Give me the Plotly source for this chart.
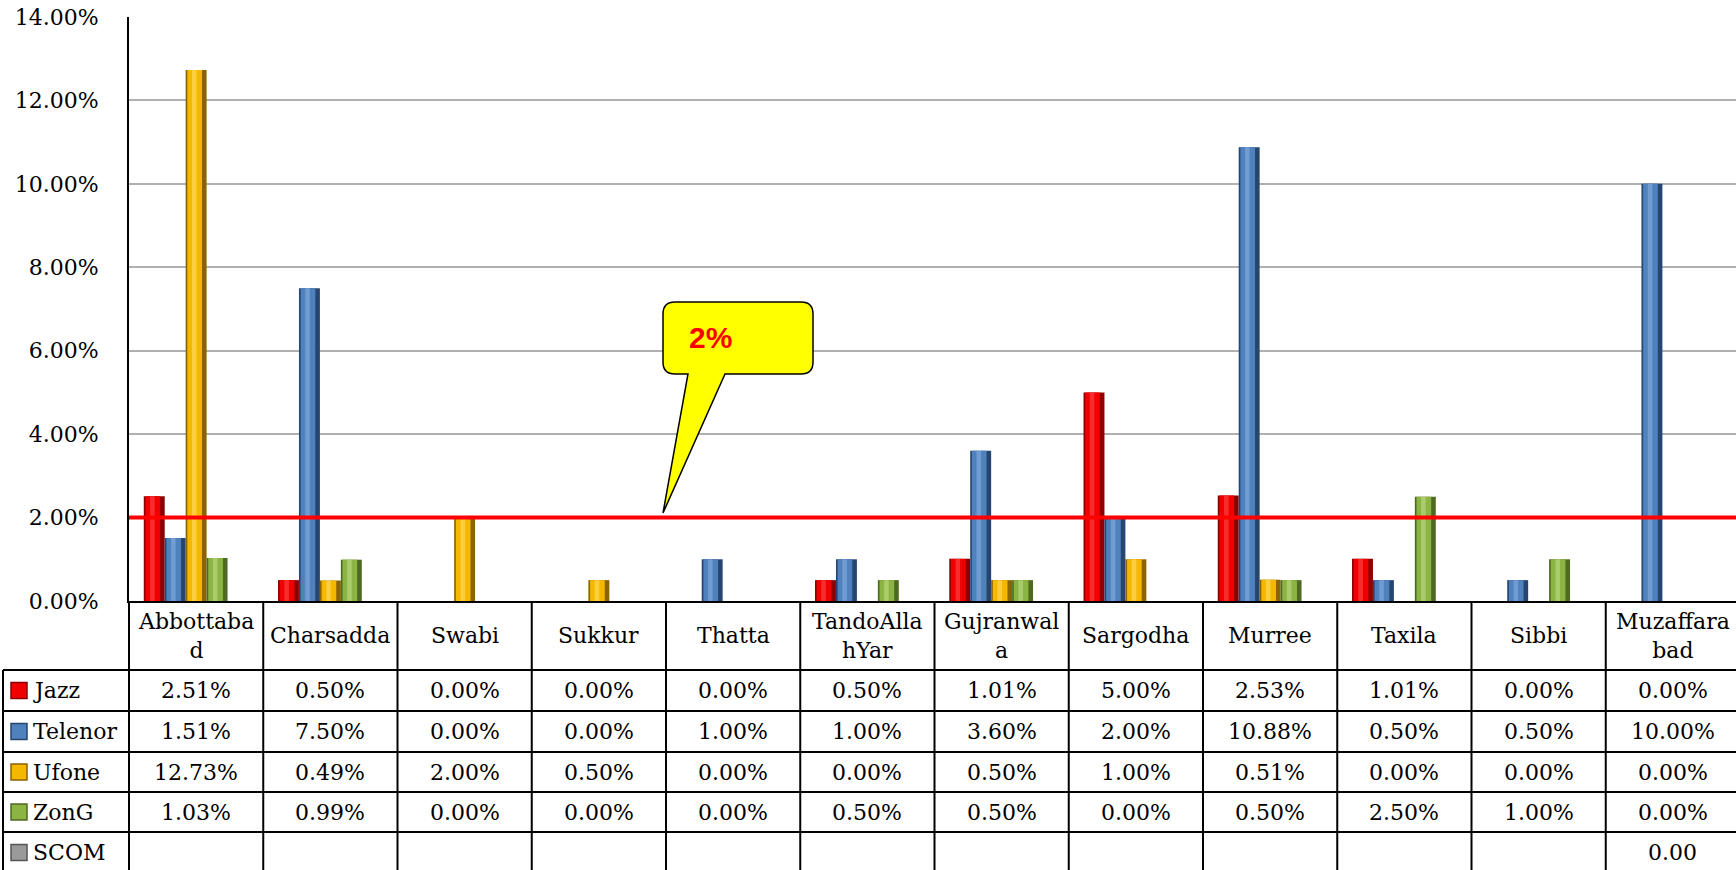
import plotly.graph_objects as go

# ---------------- data ----------------
CATEGORIES = ["Abbottabad", "Charsadda", "Swabi", "Sukkur", "Thatta", "TandoAllahYar",
              "Gujranwala", "Sargodha", "Murree", "Taxila", "Sibbi", "Muzaffarabad"]
HEADER_LABELS = ["Abbottaba<br>d", "Charsadda", "Swabi", "Sukkur", "Thatta", "TandoAlla<br>hYar",
                 "Gujranwal<br>a", "Sargodha", "Murree", "Taxila", "Sibbi", "Muzaffara<br>bad"]
SERIES = ["Jazz", "Telenor", "Ufone", "ZonG", "SCOM"]
JAZZ = [2.51, 0.50, 0.00, 0.00, 0.00, 0.50, 1.01, 5.00, 2.53, 1.01, 0.00, 0.00]
TELENOR = [1.51, 7.50, 0.00, 0.00, 1.00, 1.00, 3.60, 2.00, 10.88, 0.50, 0.50, 10.00]
UFONE = [12.73, 0.49, 2.00, 0.50, 0.00, 0.00, 0.50, 1.00, 0.51, 0.00, 0.00, 0.00]
ZONG = [1.03, 0.99, 0.00, 0.00, 0.00, 0.50, 0.50, 0.00, 0.50, 2.50, 1.00, 0.00]
SCOM = [None, None, None, None, None, None, None, None, None, None, None, 0.00]
THRESHOLD = 2.0          # percent
THRESHOLD_LABEL = "2%"
Y_TICKS = [0, 2, 4, 6, 8, 10, 12, 14]

VALUES = [JAZZ, TELENOR, UFONE, ZONG, SCOM]

# ---------------- style ----------------
MAIN = ["#F00000", "#4F81BD", "#F5B800", "#8CB443", "#9A9A9A"]
DARK = ["#8E0000", "#27466F", "#8A6400", "#4E6A22", "#555555"]
LIGHT = ["#FF5050", "#8DB3E2", "#FFE070", "#C4E08E", "#D0D0D0"]

W, H = 1736, 870
L, R, T, B = 129, 0, 17, 269
PW = W - L - R
PH = H - T - B
COL_PX = 134.25
FONT = "DejaVu Serif"
FS = 22


def px(x):
    return (x - L) / PW


def py(y):
    return (H - B - y) / PH


fig = go.Figure()

n = len(SERIES)
bw = 0.156
start = -bw * n / 2
for k, (name, vals) in enumerate(zip(SERIES, VALUES)):
    vals_pct = [None if (v is None or v == 0) else v / 100 for v in vals]
    o = start + k * bw
    layers = [
        (o, bw, DARK[k], 1.0),
        (o + 0.08 * bw, 0.70 * bw, MAIN[k], 1.0),
        (o + 0.30 * bw, 0.22 * bw, LIGHT[k], 0.55),
    ]
    for off, wd, col, op in layers:
        fig.add_trace(go.Bar(
            x=CATEGORIES, y=vals_pct, offset=off, width=wd, name=name,
            marker=dict(color=col, line=dict(width=0)), opacity=op,
            showlegend=False, hoverinfo="skip"))

x_end = -0.5 + PW / COL_PX

shapes = []
annotations = []

# threshold line
shapes.append(dict(type="line", xref="paper", yref="y", x0=0, x1=1,
                   y0=THRESHOLD / 100, y1=THRESHOLD / 100,
                   line=dict(color="#FF0000", width=4), layer="above"))

# callout
r = 12
cl, cr, ct, cb = 663, 813, 302, 374
tail = [(725, 374), (663, 513), (688, 374)]


def P(x, y):
    return f"{px(x):.5f},{py(y):.5f}"


path = (f"M{P(cl + r, ct)} L{P(cr - r, ct)} Q{P(cr, ct)} {P(cr, ct + r)} "
        f"L{P(cr, cb - r)} Q{P(cr, cb)} {P(cr - r, cb)} "
        f"L{P(*tail[0])} L{P(*tail[1])} L{P(*tail[2])} "
        f"L{P(cl + r, cb)} Q{P(cl, cb)} {P(cl, cb - r)} "
        f"L{P(cl, ct + r)} Q{P(cl, ct)} {P(cl + r, ct)} Z")
shapes.append(dict(type="path", xref="paper", yref="paper", path=path,
                   fillcolor="#FFFF00", line=dict(color="black", width=1.5), layer="above"))
annotations.append(dict(xref="paper", yref="paper", x=px(710), y=py(337),
                        text=f"<b>{THRESHOLD_LABEL}</b>", showarrow=False,
                        font=dict(family="Liberation Sans", size=30, color="#FF0000"),
                        xanchor="center", yanchor="middle"))

# table grid
row_edges = [601, 670, 711, 752, 792, 832, 873]
bottom = py(H + 2)
for yb in row_edges[1:-1]:
    shapes.append(dict(type="line", xref="paper", yref="paper", x0=px(3), x1=1,
                       y0=py(yb), y1=py(yb), line=dict(color="black", width=2)))
shapes.append(dict(type="line", xref="paper", yref="paper", x0=px(3), x1=px(3),
                   y0=py(670), y1=bottom, line=dict(color="black", width=2)))
shapes.append(dict(type="line", xref="paper", yref="paper", x0=0, x1=0,
                   y0=py(601), y1=bottom, line=dict(color="black", width=2)))
for i in range(len(CATEGORIES) - 1):
    shapes.append(dict(type="line", xref="x", yref="paper", x0=i + 0.5, x1=i + 0.5,
                       y0=py(601), y1=bottom, line=dict(color="black", width=2)))

# header labels
for i, lab in enumerate(HEADER_LABELS):
    annotations.append(dict(xref="x", yref="paper", x=i, y=py((601 + 670) / 2),
                            text=lab, showarrow=False, xanchor="center", yanchor="middle",
                            font=dict(family=FONT, size=FS, color="black")))

# rows
for k, (name, vals) in enumerate(zip(SERIES, VALUES)):
    yc = (row_edges[k + 1] + row_edges[k + 2]) / 2
    shapes.append(dict(type="rect", xref="paper", yref="paper",
                       x0=px(11), x1=px(27), y0=py(yc - 8), y1=py(yc + 8),
                       fillcolor=MAIN[k], line=dict(color=DARK[k], width=1.5)))
    annotations.append(dict(xref="paper", yref="paper", x=px(31), y=py(yc),
                            text=name, showarrow=False, xanchor="left", yanchor="middle",
                            font=dict(family=FONT, size=FS, color="black")))
    for i, v in enumerate(vals):
        if v is None:
            continue
        txt = f"{v:.2f}%" if name != "SCOM" else f"{v:.2f}"
        annotations.append(dict(xref="x", yref="paper", x=i, y=py(yc),
                                text=txt, showarrow=False, xanchor="center", yanchor="middle",
                                font=dict(family=FONT, size=FS, color="black")))

fig.update_layout(
    width=W, height=H, autosize=False,
    margin=dict(l=L, r=R, t=T, b=B, pad=0),
    paper_bgcolor="white", plot_bgcolor="white",
    barmode="overlay",
    shapes=shapes, annotations=annotations,
    showlegend=False,
    xaxis=dict(type="category", range=[-0.5, x_end], showgrid=False, showticklabels=False,
               ticks="", showline=True, linecolor="black", linewidth=2, zeroline=False,
               fixedrange=True),
    yaxis=dict(range=[0, Y_TICKS[-1] / 100], tickvals=[t / 100 for t in Y_TICKS],
               tickformat=".2%", showgrid=True, gridcolor="#B0B0B0", gridwidth=1.5,
               showline=True, linecolor="black", linewidth=2, zeroline=False,
               ticks="", ticklabelstandoff=24,
               tickfont=dict(family=FONT, size=FS, color="black"), fixedrange=True),
)

fig.write_html("out.html", config={"displayModeBar": False},
               post_script="document.body.style.margin='0';document.body.style.overflow='hidden';")
